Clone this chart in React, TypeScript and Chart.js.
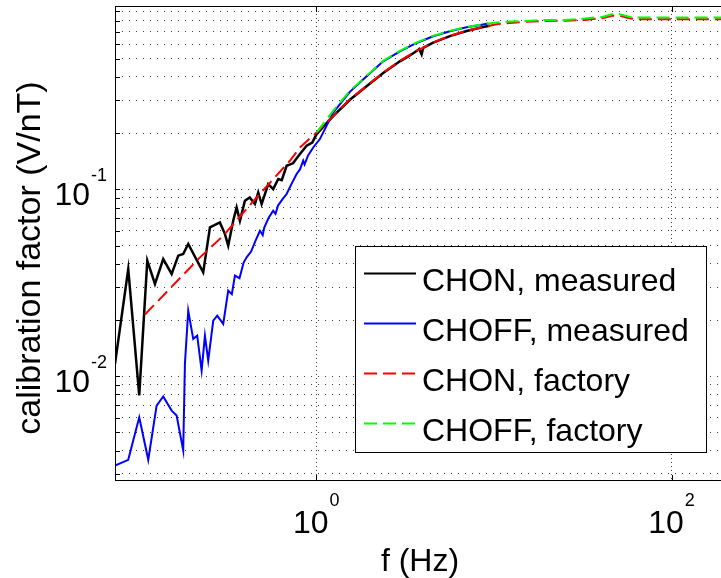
import React, { useEffect, useRef } from "react";
import { Chart, registerables } from "chart.js";

Chart.register(...registerables);

// ---------- data ----------
const seriesLabels = ["CHON, measured", "CHOFF, measured", "CHON, factory", "CHOFF, factory"];
const seriesColors = ["#000000", "#0000ff", "#ff0000", "#00ff00"];
const xAxisTitle = "f (Hz)";
const yAxisTitle = "calibration factor (V/nT)";

const chonMeasuredFreq = [
  0.0737, 0.0875, 0.1009, 0.112, 0.1237, 0.1377, 0.1536, 0.1673, 0.1784, 0.1904,
  0.2312, 0.2523, 0.2871, 0.3064, 0.3197, 0.3411, 0.3565, 0.372, 0.397, 0.4224,
  0.4519, 0.4716, 0.4929, 0.537, 0.5726, 0.6112, 0.64, 0.6815, 0.74, 0.81, 0.883, 0.95, 1.005,
  1.246, 1.547, 1.921, 2.383, 2.958, 3.3, 3.673, 3.8, 3.92, 4.0, 4.554, 5.655,
  7.022, 8.708, 9.5,
];
const chonMeasuredValue = [
  0.01165, 0.0375, 0.00789, 0.0416, 0.0312, 0.0424, 0.0353, 0.0442, 0.0451, 0.0511,
  0.036, 0.0626, 0.0666, 0.0577, 0.05, 0.068, 0.0801, 0.068, 0.087, 0.0906,
  0.0835, 0.0963, 0.0835, 0.1069, 0.1005, 0.1137, 0.112, 0.1339, 0.138, 0.1547, 0.1713, 0.178, 0.1978,
  0.247, 0.302, 0.357, 0.42, 0.485, 0.515, 0.55, 0.565, 0.528, 0.572, 0.61, 0.662,
  0.704, 0.74, 0.752,
];

const choffMeasuredFreq = [
  0.0737, 0.0875, 0.1009, 0.1134, 0.1264, 0.1377, 0.1536, 0.1638, 0.1784, 0.1824,
  0.1904, 0.2031, 0.2139, 0.2265, 0.2364, 0.2467, 0.2633, 0.2772, 0.2997, 0.3197,
  0.335, 0.3487, 0.37, 0.39, 0.4058, 0.43, 0.455, 0.4823, 0.5, 0.51, 0.54, 0.5726, 0.59, 0.61,
  0.645, 0.6815, 0.73, 0.7758, 0.81, 0.845, 0.86, 0.9, 0.962, 1.049, 1.246, 1.547, 1.921,
  2.383, 2.958, 3.673, 4.554, 5.655, 7.022, 8.708, 9.3,
];
const choffMeasuredValue = [
  0.00333, 0.00357, 0.00603, 0.00357, 0.00697, 0.00779, 0.00655, 0.00616, 0.00401, 0.01165,
  0.02245, 0.01585, 0.0165, 0.01073, 0.0165, 0.01213, 0.01986, 0.0211, 0.01906, 0.02873,
  0.0275, 0.0346, 0.0335, 0.0405, 0.0433, 0.0465, 0.053, 0.0601, 0.057, 0.0625, 0.0705, 0.0769, 0.074, 0.082,
  0.0885, 0.0945, 0.108, 0.1209, 0.128, 0.1424, 0.136, 0.152, 0.1677, 0.186, 0.258, 0.333, 0.403,
  0.485, 0.548, 0.608, 0.66, 0.703, 0.738, 0.764, 0.772,
];

const chonFactoryFreq = [
  0.1086, 0.2216, 0.2997, 0.462, 0.711, 0.81, 1.005, 1.246, 1.547, 1.921, 2.383, 2.958,
  3.673, 4.554, 5.655, 7.022, 8.708, 10.36, 11.79, 15.28, 19.8, 25.1, 32.5, 41.2, 46.9,
  51.2, 57, 63.5, 100, 200,
];
const chonFactoryValue = [
  0.0214, 0.0433, 0.0565, 0.0906, 0.1424, 0.1677, 0.2018, 0.2477, 0.304, 0.358, 0.422, 0.488,
  0.552, 0.611, 0.664, 0.706, 0.741, 0.766, 0.775, 0.79, 0.797, 0.8, 0.808, 0.826, 0.852,
  0.85, 0.828, 0.815, 0.815, 0.815,
];

const choffFactoryFreq = [
  1.005, 1.246, 1.547, 1.921, 2.383, 2.958, 3.673, 4.554, 5.655, 7.022, 8.708, 10.36,
  11.79, 15.28, 19.8, 25.1, 32.5, 41.2, 46.9, 51.2, 57, 63.5, 100, 200,
];
const choffFactoryValue = [
  0.2018, 0.2636, 0.337, 0.406, 0.488, 0.552, 0.611, 0.664, 0.706, 0.741, 0.766, 0.782,
  0.79, 0.798, 0.808, 0.808, 0.821, 0.841, 0.87, 0.867, 0.843, 0.832, 0.832, 0.832,
];

const xTickValues = [1, 100];
const yTickValues = [0.01, 0.1];
const yMinorTickValues = [
  0.003, 0.004, 0.005, 0.006, 0.007, 0.008, 0.009,
  0.02, 0.03, 0.04, 0.05, 0.06, 0.07, 0.08, 0.09,
  0.2, 0.3, 0.4, 0.5, 0.6, 0.7, 0.8, 0.9,
];
const X_MIN = 0.0737;
const X_MAX = 200;
const Y_MIN = 0.00275;
const Y_MAX = 0.959;

const FONT = '"Liberation Sans", Arial, Helvetica, sans-serif';

function pts(xs: number[], ys: number[]) {
  return xs.map((x, i) => ({ x, y: ys[i] }));
}

const decorPlugin = {
  id: "decor",
  afterDraw(chart: any) {
    const ctx = chart.ctx as CanvasRenderingContext2D;
    const { left, right, top, bottom } = chart.chartArea;
    const xs = chart.scales.x;
    const ys = chart.scales.y;
    ctx.save();
    // axes box
    ctx.strokeStyle = "#000";
    ctx.lineWidth = 1;
    ctx.setLineDash([]);
    ctx.strokeRect(Math.round(left) + 0.5, Math.round(top) + 0.5, right - left - 1, bottom - top - 1);
    // inward tick marks
    ctx.beginPath();
    for (const v of xTickValues) {
      const px = Math.round(xs.getPixelForValue(v)) + 0.5;
      ctx.moveTo(px, bottom);
      ctx.lineTo(px, bottom - 6);
      ctx.moveTo(px, top);
      ctx.lineTo(px, top + 6);
    }
    for (const v of [...yTickValues, ...yMinorTickValues]) {
      const py = Math.round(ys.getPixelForValue(v)) + 0.5;
      ctx.moveTo(left, py);
      ctx.lineTo(left + 5, py);
    }
    ctx.stroke();

    // tick labels 10^n
    ctx.fillStyle = "#000";
    ctx.textBaseline = "alphabetic";
    for (const v of xTickValues) {
      const px = xs.getPixelForValue(v);
      const exp = String(Math.round(Math.log10(v)));
      ctx.font = `32px ${FONT}`;
      const w1 = ctx.measureText("10").width;
      ctx.font = `18px ${FONT}`;
      const w2 = ctx.measureText(exp).width;
      const x0 = px - (w1 + w2 + 1) / 2;
      ctx.font = `32px ${FONT}`;
      ctx.textAlign = "left";
      ctx.fillText("10", x0, bottom + 52);
      ctx.font = `18px ${FONT}`;
      ctx.fillText(exp, x0 + w1 + 1, bottom + 25);
    }
    for (const v of yTickValues) {
      const py = ys.getPixelForValue(v);
      const exp = String(Math.round(Math.log10(v)));
      ctx.font = `18px ${FONT}`;
      const w2 = ctx.measureText(exp).width;
      const xr = left - 8;
      ctx.textAlign = "right";
      ctx.fillText(exp, xr, py - 8.5);
      ctx.font = `32px ${FONT}`;
      ctx.fillText("10", xr - w2 - 1, py + 15.5);
    }

    // y axis title
    ctx.save();
    ctx.translate(31, 258);
    ctx.rotate(-Math.PI / 2);
    ctx.font = `34px ${FONT}`;
    ctx.textAlign = "center";
    ctx.textBaseline = "middle";
    ctx.fillText(yAxisTitle, 0, 0);
    ctx.restore();

    // legend
    const bx = 355, by = 246, bw = 351, bh = 206;
    ctx.fillStyle = "#fff";
    ctx.fillRect(bx, by, bw, bh);
    ctx.strokeStyle = "#000";
    ctx.lineWidth = 1;
    ctx.strokeRect(bx + 0.5, by + 0.5, bw, bh);
    const dashes = [[], [], [13, 6], [13, 6]];
    for (let i = 0; i < seriesLabels.length; i++) {
      const ry = by + 26.5 + i * 50.3;
      ctx.strokeStyle = seriesColors[i];
      ctx.lineWidth = 2;
      ctx.setLineDash(dashes[i]);
      ctx.beginPath();
      ctx.moveTo(364, Math.round(ry) + 0.5);
      ctx.lineTo(416, Math.round(ry) + 0.5);
      ctx.stroke();
      ctx.setLineDash([]);
      ctx.fillStyle = "#000";
      ctx.font = `32px ${FONT}`;
      ctx.textAlign = "left";
      ctx.textBaseline = "alphabetic";
      ctx.fillText(seriesLabels[i], 422, ry + 18);
    }
    ctx.restore();
  },
};

export default function App() {
  const ref = useRef<HTMLCanvasElement>(null);
  useEffect(() => {
    if (!ref.current) return;
    const gridColor = "rgba(0,0,0,0.75)";
    const chart = new Chart(ref.current, {
      type: "line",
      data: {
        datasets: [
          {
            label: seriesLabels[0],
            data: pts(chonMeasuredFreq, chonMeasuredValue),
            borderColor: seriesColors[0],
            borderWidth: 2.5,
            pointRadius: 0,
            tension: 0,
            order: 4,
          },
          {
            label: seriesLabels[1],
            data: pts(choffMeasuredFreq, choffMeasuredValue),
            borderColor: seriesColors[1],
            borderWidth: 2,
            pointRadius: 0,
            tension: 0,
            order: 3,
          },
          {
            label: seriesLabels[2],
            data: pts(chonFactoryFreq, chonFactoryValue),
            borderColor: seriesColors[2],
            borderWidth: 2,
            borderDash: [13, 6],
            pointRadius: 0,
            tension: 0,
            order: 2,
          },
          {
            label: seriesLabels[3],
            data: pts(choffFactoryFreq, choffFactoryValue),
            borderColor: seriesColors[3],
            borderWidth: 2,
            borderDash: [13, 6],
            pointRadius: 0,
            tension: 0,
            order: 1,
          },
        ],
      },
      options: {
        responsive: false,
        animation: false,
        devicePixelRatio: 1,
        layout: { padding: { left: 115, right: 0, top: 6, bottom: 0 } },
        plugins: { legend: { display: false }, tooltip: { enabled: false } },
        scales: {
          x: {
            type: "logarithmic",
            min: X_MIN,
            max: X_MAX,
            afterBuildTicks: (s: any) => {
              s.ticks = xTickValues.map((v) => ({ value: v }));
            },
            ticks: { display: false },
            grid: { color: gridColor, lineWidth: 1, drawTicks: false },
            border: { display: false, dash: [1, 3] },
            title: {
              display: true,
              text: xAxisTitle,
              color: "#000",
              font: { family: FONT, size: 32, lineHeight: 1 },
              padding: { top: 65, bottom: 0 },
            },
          },
          y: {
            type: "logarithmic",
            min: Y_MIN,
            max: Y_MAX,
            afterBuildTicks: (s: any) => {
              s.ticks = [...yMinorTickValues, ...yTickValues]
                .sort((a, b) => a - b)
                .map((v) => ({ value: v }));
            },
            ticks: { display: false },
            grid: { color: gridColor, lineWidth: 1, drawTicks: false },
            border: { display: false, dash: [1, 6] },
            title: { display: false },
          },
        },
      },
      plugins: [decorPlugin],
    } as any);
    return () => chart.destroy();
  }, []);
  return (
    <div
      style={{
        position: "fixed",
        left: 0,
        top: 0,
        width: 721,
        height: 578,
        overflow: "hidden",
        background: "#fff",
      }}
    >
      <canvas ref={ref} width={725} height={578} style={{ display: "block", width: 725, height: 578 }} />
    </div>
  );
}
